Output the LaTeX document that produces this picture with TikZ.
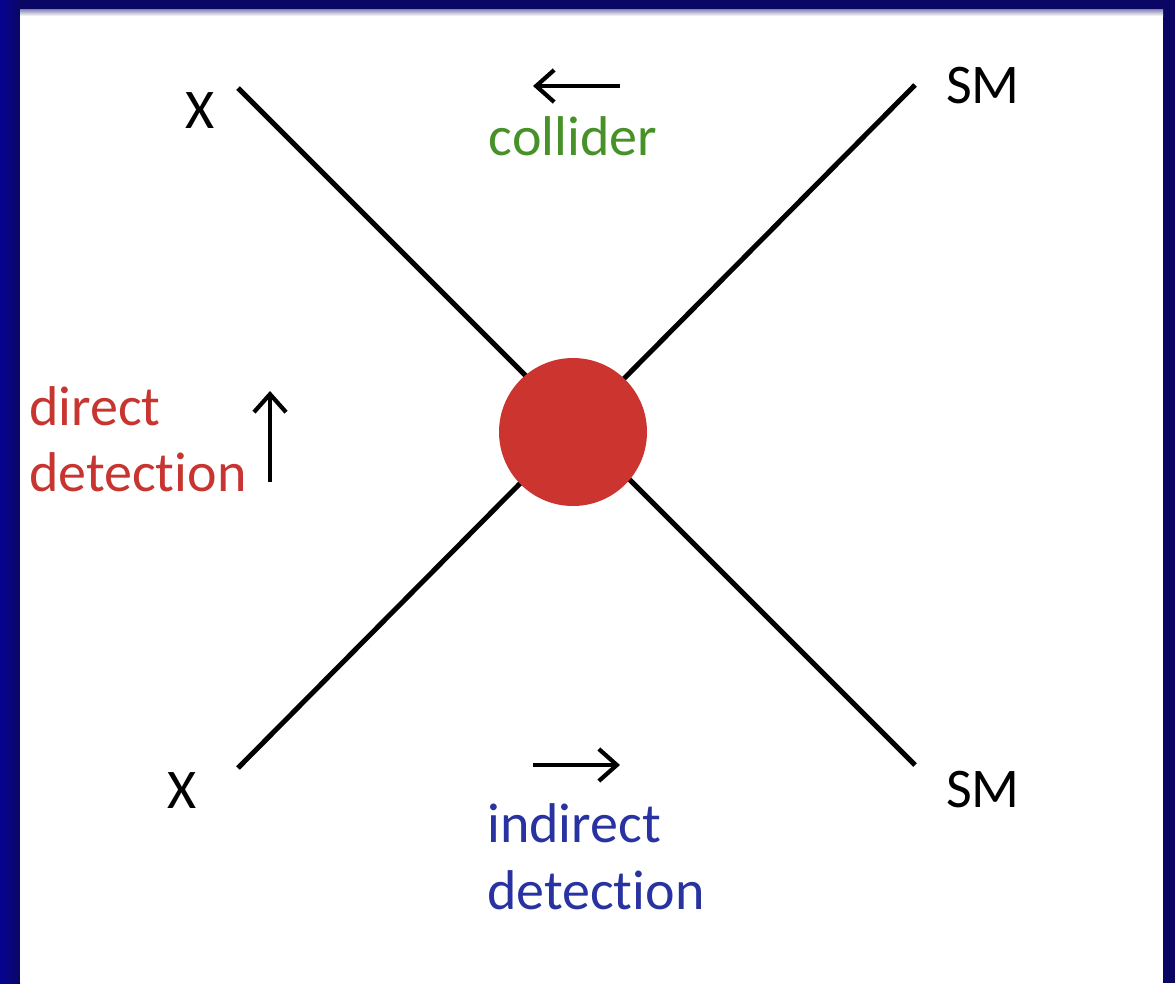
\documentclass[tikz,border=0pt]{standalone}
\usepackage{fontspec}
\setmainfont[Ligatures=NoCommon]{Carlito}
\usetikzlibrary{arrows.meta}
\definecolor{navy}{RGB}{10,6,100}
\definecolor{dmred}{RGB}{204,52,47}
\definecolor{txtred}{RGB}{200,52,47}
\definecolor{txtgreen}{RGB}{70,145,40}
\definecolor{txtblue}{RGB}{40,50,160}
\tikzset{
  leg/.style={line width=5pt, black},
  lbl/.style={font=\fontsize{56}{66}\selectfont, inner sep=0pt},
  dirarrow/.style={line width=4.2pt, black, -{Straight Barb[length=18pt,width=32pt,line width=4.2pt]}},
}
\begin{document}
\begin{tikzpicture}[x=1pt,y=-1pt]
\useasboundingbox (0,0) rectangle (1175,983);
\fill[navy] (0,0) rectangle (1175,983);
\shade[left color=navy!70!blue, right color=navy] (0,0) rectangle (20,983);
\fill[white] (20,12) rectangle (1163,983);
\shade[top color=navy!50!white, bottom color=white] (20,9) rectangle (1163,16);
% vertices
\coordinate (x1) at (238,88);
\coordinate (sm2) at (915,765);
\coordinate (sm1) at (915,85);
\coordinate (x2) at (238,768);
\draw[leg] (x1) -- (sm2);
\draw[leg] (sm1) -- (x2);
\node[circle, fill=dmred, minimum size=148pt, inner sep=0pt] (blob) at (573,432) {};
% labels
\node[lbl, anchor=base] (lx1) at (200,128) {X};
\node[lbl, anchor=base] (lx2) at (182,808) {X};
\node[lbl, anchor=base west] (lsm1) at (946,103) {SM};
\node[lbl, anchor=base west] (lsm2) at (946,807) {SM};
% collider
\coordinate (ca) at (620,86);
\coordinate (cb) at (533,86);
\draw[dirarrow] (ca) -- (cb);
\node[lbl, anchor=base, text=txtgreen] (coll) at (573,155) {collider};
% direct detection
\coordinate (da) at (270,482);
\coordinate (db) at (270,391);
\draw[dirarrow] (da) -- (db);
\node[lbl, anchor=base west, text=txtred] (dir1) at (29,425) {direct};
\node[lbl, anchor=base west, text=txtred] (dir2) at (29,491) {detection};
% indirect detection
\coordinate (ia) at (533,765);
\coordinate (ib) at (620,765);
\draw[dirarrow] (ia) -- (ib);
\node[lbl, anchor=base west, text=txtblue] (ind1) at (487,842) {indirect};
\node[lbl, anchor=base west, text=txtblue] (ind2) at (487,909) {detection};
\end{tikzpicture}
\end{document}
